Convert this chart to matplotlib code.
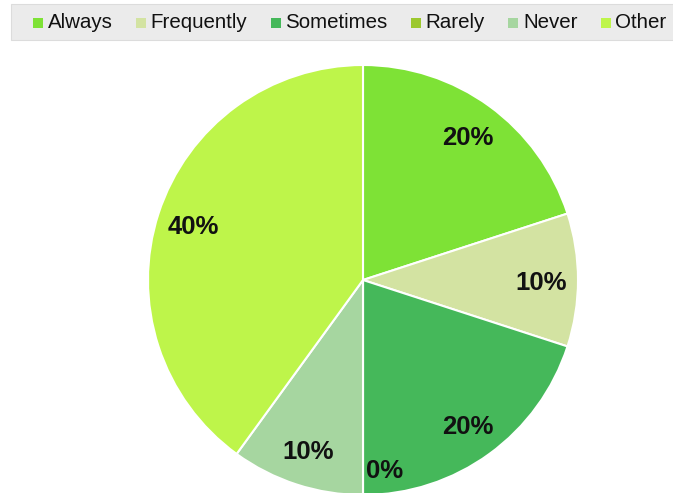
import matplotlib
matplotlib.use("Agg")
import matplotlib.pyplot as plt
from matplotlib.patches import Rectangle
import numpy as np

categories = ["Always", "Frequently", "Sometimes", "Rarely", "Never", "Other"]
values = [20, 10, 20, 0, 10, 40]
colors = ["#7ee236", "#d3e3a2", "#45b85a", "#9cc82e", "#a6d6a0", "#bef54a"]

W, H, DPI = 673, 493, 100
fig = plt.figure(figsize=(W / DPI, H / DPI), dpi=DPI)
fig.patch.set_facecolor("white")

# pie axes: centre (363, 280) px, radius 215 px
cx, cy, r = 363, 280, 215
ax = fig.add_axes([(cx - r) / W, (H - cy - r) / H, 2 * r / W, 2 * r / H])

wedges, _ = ax.pie(values, colors=colors, startangle=90, counterclock=False,
                   radius=1, wedgeprops=dict(edgecolor="white", linewidth=1.5))
for w in wedges:
    w.set_clip_on(False)
ax.set_xlim(-1, 1)
ax.set_ylim(-1, 1)
ax.set_aspect("equal")
ax.axis("off")

# percentage labels
total = sum(values)
label_font = dict(family="Liberation Sans", weight="bold", size=18.5, color="#111111")
for w, v in zip(wedges, values):
    mid = np.deg2rad((w.theta1 + w.theta2) / 2)
    d = 0.83
    x, y = d * np.cos(mid), d * np.sin(mid)
    if v == 0:
        x, y = 0.10, -0.875
    ax.text(x, y, f"{v / total * 100:.0f}%", ha="center", va="center_baseline",
            clip_on=False, **label_font)

# legend strip across the top
lx0, ly0, lx1, ly1 = 11, 4, 680, 40
fig.add_artist(Rectangle((lx0 / W, 1 - ly1 / H), (lx1 - lx0) / W, (ly1 - ly0) / H,
                         transform=fig.transFigure, facecolor="#ebebeb",
                         edgecolor="#dcdcdc", linewidth=0.8))
renderer = fig.canvas.get_renderer()
x = 33
ymid = 23
msize = 10
for name, col in zip(categories, colors):
    fig.add_artist(Rectangle((x / W, 1 - (ymid + msize / 2) / H), msize / W, msize / H,
                             transform=fig.transFigure, facecolor=col, edgecolor="none"))
    t = fig.text((x + msize + 5) / W, 1 - ymid / H, name, ha="left", va="center",
                 family="Liberation Sans", size=14.8, color="#111111")
    bb = t.get_window_extent(renderer=renderer)
    x = bb.x1 + 23

fig.savefig("out.png", dpi=DPI)
